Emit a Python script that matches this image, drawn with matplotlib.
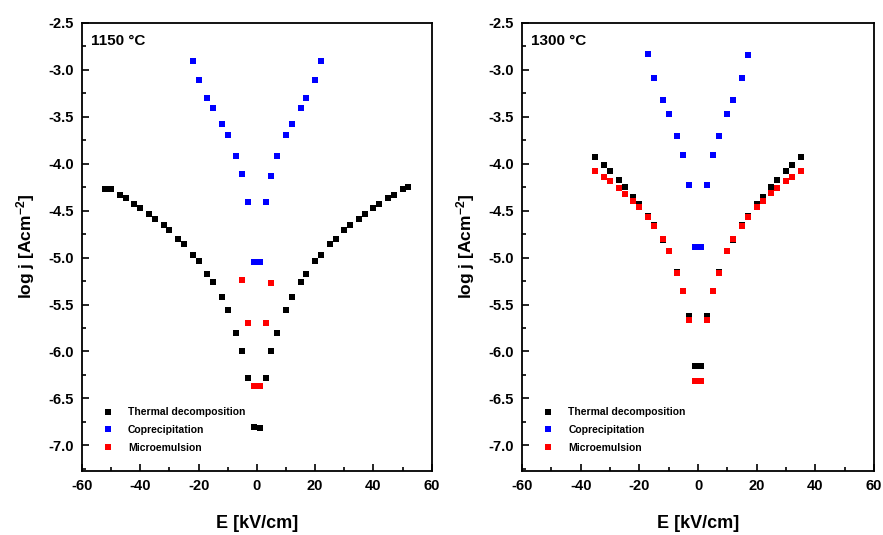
# -*- encoding: utf-8 -*-

import matplotlib.pyplot as plt
from matplotlib.ticker import MultipleLocator

plt.rcParams['font.family'] = ['Liberation Sans', 'DejaVu Sans']
plt.rcParams['font.weight'] = 'bold'
plt.rcParams['axes.unicode_minus'] = False
plt.rcParams['mathtext.fontset'] = 'custom'
plt.rcParams['mathtext.rm'] = 'Liberation Sans:bold'
plt.rcParams['mathtext.bf'] = 'Liberation Sans:bold'
plt.rcParams['mathtext.default'] = 'rm'

# 1150 C
e_td_1150 = [-52, -50, -47, -45, -42, -40, -37, -35, -32, -30, -27, -25, -22,
             -20, -17, -15, -12, -10, -7, -5, -3, -1, 1, 3, 5, 7, 10, 12, 15,
             17, 20, 22, 25, 27, 30, 32, 35, 37, 40, 42, 45, 47, 50, 52]
j_td_1150 = [-4.27, -4.27, -4.335, -4.365, -4.43, -4.47, -4.535, -4.585,
             -4.655, -4.71, -4.80, -4.86, -4.97, -5.04, -5.17, -5.26, -5.425,
             -5.56, -5.80, -6.00, -6.28, -6.80, -6.81, -6.28, -6.00, -5.80,
             -5.56, -5.425, -5.26, -5.17, -5.04, -4.97, -4.86, -4.80, -4.71,
             -4.655, -4.585, -4.535, -4.47, -4.43, -4.37, -4.335, -4.27, -4.25]

e_cp_1150 = [-22, -20, -17, -15, -12, -10, -7, -5, -3, -1, 1, 3, 5, 7, 10, 12,
             15, 17, 20, 22]
j_cp_1150 = [-2.905, -3.105, -3.30, -3.41, -3.575, -3.70, -3.915, -4.115, -4.41,
             -5.05, -5.05, -4.41, -4.13, -3.915, -3.70, -3.58, -3.41, -3.30,
             -3.105, -2.905]

e_me_1150 = [-5, -3, -1, 1, 3, 5]
j_me_1150 = [-5.24, -5.70, -6.37, -6.37, -5.70, -5.27]

# 1300 C
e_td_1300 = [-35, -32, -30, -27, -25, -22, -20, -17, -15, -12, -10, -7, -5, -3,
             -1, 1, 3, 5, 7, 10, 12, 15, 17, 20, 22, 25, 27, 30, 32, 35]
j_td_1300 = [-3.935, -4.01, -4.08, -4.17, -4.245, -4.355, -4.435, -4.56,
             -4.655, -4.81, -4.93, -5.155, -5.355, -5.625, -6.155, -6.155,
             -5.625, -5.355, -5.155, -4.93, -4.81, -4.655, -4.56, -4.43,
             -4.355, -4.25, -4.17, -4.08, -4.01, -3.935]

e_cp_1300 = [-17, -15, -12, -10, -7, -5, -3, -1, 1, 3, 5, 7, 10, 12, 15, 17]
j_cp_1300 = [-2.83, -3.085, -3.325, -3.47, -3.705, -3.91, -4.225, -4.885,
             -4.885, -4.225, -3.91, -3.705, -3.47, -3.325, -3.085, -2.845]

e_me_1300 = e_td_1300
j_me_1300 = [-4.08, -4.14, -4.19, -4.265, -4.32, -4.40, -4.46, -4.57, -4.66,
             -4.80, -4.935, -5.16, -5.36, -5.67, -6.31, -6.31, -5.67, -5.36,
             -5.16, -4.935, -4.80, -4.665, -4.57, -4.46, -4.40, -4.315, -4.265,
             -4.19, -4.14, -4.08]

labels = ['Thermal decomposition', 'Coprecipitation', 'Microemulsion']
colors = ['k', '#0000ff', '#ff0000']

panels = [
    ('1150 °C', [(e_td_1150, j_td_1150), (e_cp_1150, j_cp_1150),
                 (e_me_1150, j_me_1150)]),
    ('1300 °C', [(e_td_1300, j_td_1300), (e_cp_1300, j_cp_1300),
                 (e_me_1300, j_me_1300)]),
]

fig = plt.figure(figsize=(8.83, 5.35), dpi=100)
axes = [fig.add_axes([0.0929, 0.120, 0.396, 0.8376]),
        fig.add_axes([0.5912, 0.120, 0.3986, 0.8376])]

for ax, (title, series) in zip(axes, panels):
    for (x, y), c, lab in zip(series, colors, labels):
        ax.plot(x, y, 's', color=c, markersize=3.8, markeredgewidth=0,
                label=lab)

    ax.set_xlim(-60, 60)
    ax.set_ylim(-7.27, -2.5)
    ax.xaxis.set_major_locator(MultipleLocator(20))
    ax.xaxis.set_minor_locator(MultipleLocator(10))
    ax.yaxis.set_major_locator(MultipleLocator(0.5))
    ax.yaxis.set_minor_locator(MultipleLocator(0.25))
    ax.yaxis.set_major_formatter(plt.FormatStrFormatter('%.1f'))
    ax.tick_params(which='both', direction='in', top=False, right=False,
                   width=1.2, labelsize=10.5)
    ax.tick_params(which='major', length=5, pad=6)
    ax.tick_params(which='minor', length=3)
    for lbl in ax.get_xticklabels() + ax.get_yticklabels():
        lbl.set_fontweight('bold')
    for s in ax.spines.values():
        s.set_linewidth(1.3)

    ax.set_xlabel('E [kV/cm]', fontsize=13, fontweight='bold', labelpad=16)
    ax.set_ylabel('log j [Acm$^{-2}$]', fontsize=12.5, fontweight='bold',
                  labelpad=8)
    ax.text(0.025, 0.96, title, transform=ax.transAxes, fontsize=11,
            fontweight='bold', va='center', ha='left')

    ax.legend(loc='lower left', bbox_to_anchor=(0.06, 0.04), frameon=False,
              fontsize=7.5, numpoints=1, handlelength=1.0,
              handletextpad=1.4, labelspacing=0.75, borderpad=0,
              borderaxespad=0)

plt.savefig('out.png', format='png', dpi=100)
